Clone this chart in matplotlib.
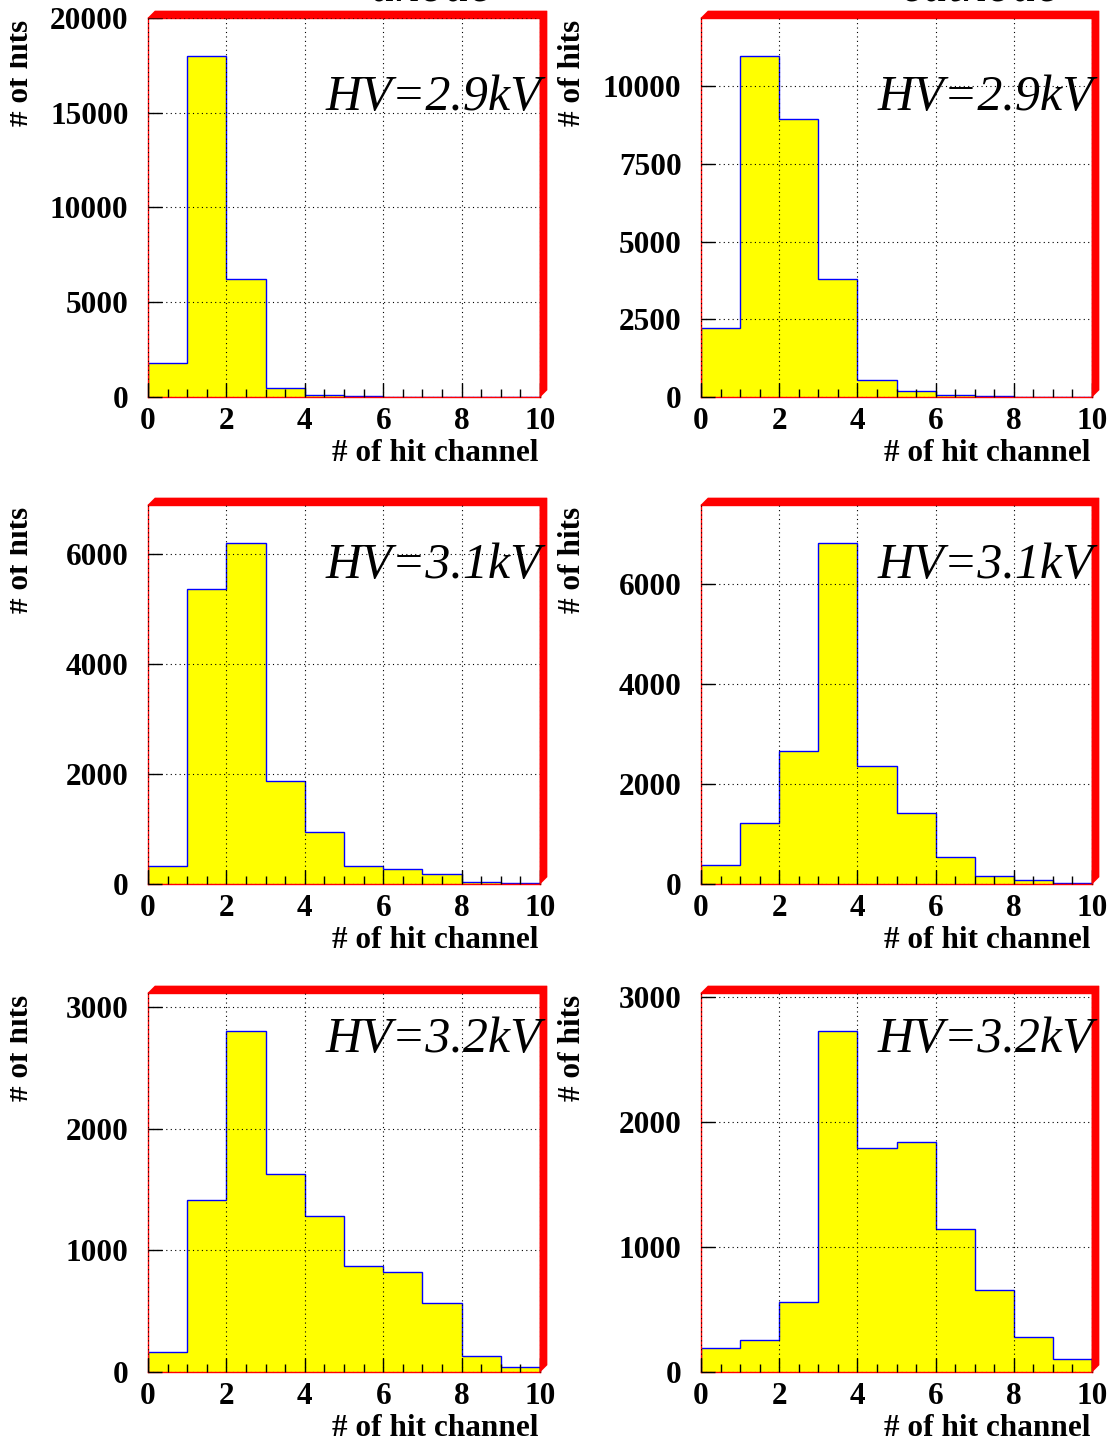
import numpy as np
import matplotlib
matplotlib.use("Agg")
import matplotlib.pyplot as plt
from matplotlib.patches import Polygon
from matplotlib.transforms import Bbox

# hit channel multiplicity, bins of width 1 from 0 to 10
edges = np.arange(0, 11)

anode_29 = [1800, 18000, 6230, 480, 110, 35, 12, 6, 3, 1]
cathode_29 = [2220, 10970, 8940, 3800, 550, 190, 70, 30, 10, 5]
anode_31 = [330, 5370, 6200, 1880, 950, 330, 280, 180, 40, 10]
cathode_31 = [380, 1220, 2660, 6820, 2360, 1420, 540, 160, 70, 20]
anode_32 = [165, 1410, 2800, 1630, 1280, 870, 820, 570, 130, 40]
cathode_32 = [190, 256, 560, 2730, 1790, 1840, 1145, 655, 280, 105]

hv_labels = ["HV=2.9kV", "HV=3.1kV", "HV=3.2kV"]
col_titles = ["anode", "cathode"]

panels = [
    [anode_29, cathode_29],
    [anode_31, cathode_31],
    [anode_32, cathode_32],
]
ytick_sets = [
    [[0, 5000, 10000, 15000, 20000], [0, 2500, 5000, 7500, 10000]],
    [[0, 2000, 4000, 6000], [0, 2000, 4000, 6000]],
    [[0, 1000, 2000, 3000], [0, 1000, 2000, 3000]],
]
ytops = [[20000, 12190], [6890, 7580], [3114, 3032]]

W, H = 1117, 1442
fig = plt.figure(figsize=(W / 100, H / 100), dpi=100)

serif = "Liberation Serif"
col_left = [148, 701]
col_right = [540, 1092]
row_top = [18, 505, 993]
ah = 379
hv_base = [110, 578, 1052]
title_x = [432, 981]
d = 7  # red border depth in pixels


def fx(x):
    return x / W


def fy(y):
    return 1 - y / H


for r in range(3):
    for c in range(2):
        L, R, T = col_left[c], col_right[c], row_top[r]
        B = T + ah
        ax = fig.add_axes([fx(L), fy(B), (R - L) / W, ah / H])
        vals = panels[r][c]
        ax.stairs(vals, edges, fill=True, facecolor="#ffff00", edgecolor="none", zorder=1)
        ax.stairs(vals, edges, color="#0000ff", lw=1.0, zorder=2)
        ax.set_xlim(0, 10)
        ax.set_ylim(0, ytops[r][c])
        ax.set_xticks(np.arange(0, 11, 2))
        ax.set_xticks(np.arange(0, 10.01, 0.5), minor=True)
        ax.set_yticks(ytick_sets[r][c])
        ax.set_axisbelow(False)
        ax.grid(True, which="major", color="black", ls=(0, (1, 3)), lw=0.8, zorder=3)
        ax.tick_params(which="both", direction="in", top=False, right=False,
                       labelsize=22.5, width=1.0)
        ax.tick_params(which="major", length=10)
        ax.tick_params(axis="x", which="minor", length=6)
        ax.tick_params(axis="y", pad=14)
        ax.tick_params(axis="x", pad=7)
        for lab in ax.get_xticklabels() + ax.get_yticklabels():
            lab.set_fontfamily(serif)
            lab.set_fontweight("bold")
        for s in ax.spines.values():
            s.set_color("red")
            s.set_linewidth(1.0)

        # 3D red border on the top and right of the frame
        pts = [(L, T), (L + d, T - d), (R + d, T - d), (R + d, B - d), (R, B), (R, T)]
        fig.patches.append(Polygon([(fx(x), fy(y)) for x, y in pts], closed=True,
                                   transform=fig.transFigure, facecolor="red",
                                   edgecolor="red", lw=0.5, zorder=5))

        fig.text(fx(R + 1), fy(hv_base[r]), hv_labels[r], ha="right", va="baseline",
                 fontsize=36, family=serif, style="italic", zorder=10)
        fig.text(fx(R - 2), fy(B + 56), "# of hit channel", ha="right", va="center",
                 fontsize=22.5, family=serif, fontweight="bold")
        yl = fig.text(fx(21 if c == 0 else 572), fy(T + 2), "# of hits", rotation=90,
                      ha="center", va="top", fontsize=22.5, family=serif,
                      fontweight="bold")
        if c == 0:
            yl.set_clip_on(True)
            yl.set_clip_box(Bbox.from_extents(10, 0, W, H))

# column titles sit above the top edge, only their lower part shows
for c, title in enumerate(col_titles):
    fig.text(fx(title_x[c]), fy(1.5), title, ha="center", va="baseline", fontsize=36,
             family=serif, style="italic")

fig.savefig("out.png", dpi=100)
